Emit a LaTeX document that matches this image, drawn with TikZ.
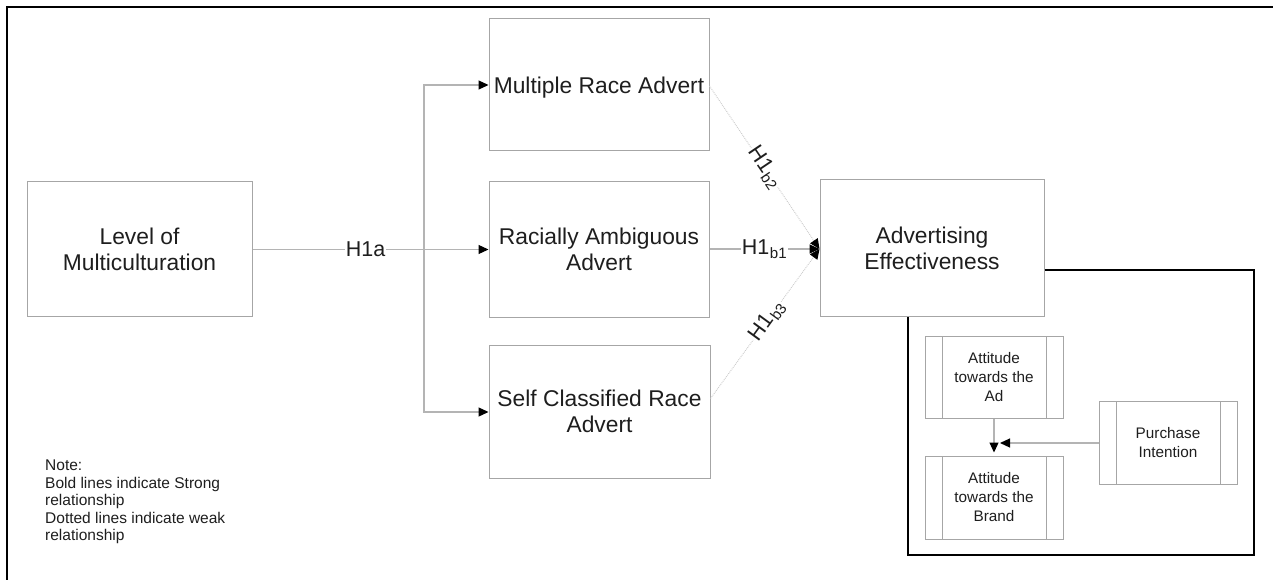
\documentclass[tikz,border=0pt]{standalone}
\usepackage{fontspec}
\setmainfont{Liberation Sans}
\usetikzlibrary{arrows.meta,positioning}
\definecolor{boxline}{HTML}{A6A6A6}
\definecolor{conline}{HTML}{B4B4B4}
\definecolor{ink}{HTML}{1E1E1E}
\begin{document}
\begin{tikzpicture}[x=1pt,y=-1pt,
  every node/.style={text=ink},
  mainbox/.style={draw=boxline,line width=1pt,align=center,inner sep=0pt,
    font=\fontsize{22.8}{26}\selectfont},
  subbox/.style={draw=boxline,line width=1pt,align=center,inner sep=0pt,
    minimum width=138pt,minimum height=83pt,
    font=\fontsize{15.3}{19}\selectfont,
    path picture={
      \draw[boxline,line width=1pt]
        ([xshift=17pt]path picture bounding box.north west) --
        ([xshift=17pt]path picture bounding box.south west)
        ([xshift=-17pt]path picture bounding box.north east) --
        ([xshift=-17pt]path picture bounding box.south east);}},
  strong/.style={conline,line width=1.2pt},
  weak/.style={conline!70,line width=0.9pt,densely dotted},
  tip/.style={-{Triangle[length=10pt,width=9pt,color=black]}},
  hyp/.style={fill=white,inner sep=1pt,font=\fontsize{21.5}{24}\selectfont},
  note/.style={align=left,anchor=north west,inner sep=0pt,
    font=\fontsize{15.5}{17.5}\selectfont}
]
\useasboundingbox (0,0) rectangle (1273,580);

% outer frame
\draw[black,line width=2.5pt] (7,582) -- (7,7) -- (1275,7);

% main boxes
\node[mainbox,minimum width=225pt,minimum height=134pt] (lvl) at (139.5,249)
  {Level of\\Multiculturation};
\node[mainbox,minimum width=220pt,minimum height=132pt,text depth=0pt] (multi)
  at (599,85) {Multiple Race Advert};
\node[mainbox,minimum width=220pt,minimum height=135pt] (racial) at (599,249.5)
  {Racially Ambiguous\\Advert};
\node[mainbox,minimum width=221pt,minimum height=133pt] (self) at (599.5,411.5)
  {Self Classified Race\\Advert};
\node[mainbox,minimum width=224pt,minimum height=136pt] (ae) at (932,248)
  {Advertising\\Effectiveness};

% components of advertising effectiveness
\node[subbox,minimum height=82pt] (ad) at (994,377) {Attitude\\towards the\\Ad};
\node[subbox] (brand) at (994,497.5) {Attitude\\towards the\\Brand};
\node[subbox] (pi) at (1168,442.5) {Purchase\\Intention};

% frame around the components
\draw[black,line width=1.5pt] (ae.east |- 0,270) -- (1254,270) -- (1254,555)
  -- (908,555) -- (908,0 |- ae.south);

% level of multiculturation to the three adverts
\coordinate (split) at (424,249.5);
\draw[strong] (lvl.east |- split) -- node[hyp,pos=0.66] {H1a} (split);
\draw[strong,tip] (split) -- (racial.west |- split);
\draw[strong,tip] (split) |- (multi.west |- 0,85);
\draw[strong,tip] (split) |- (self.west |- 0,412);

% adverts to advertising effectiveness
\coordinate (aein) at (ae.west |- 0,249);
\draw[weak,tip] (multi.east |- 0,86) -- node[hyp,sloped,pos=0.5]
  {H1\kern0.5pt\textsubscript{b2}} (aein);
\draw[weak,tip] ([yshift=13pt]self.east) -- node[hyp,sloped,pos=0.52]
  {H1\kern0.5pt\textsubscript{b3}} (aein);
\draw[strong,tip] (racial.east |- aein) -- node[hyp,pos=0.5]
  {H1\kern0.5pt\textsubscript{b1}} (aein);

% relations among the components
\coordinate (join) at (1000,443);
\draw[strong,tip,shorten >=3pt] (ad.south) -- (brand.north);
\draw[strong,tip] (pi.west |- join) -- (join);

% note
\node[note] (nt) at (45,460) {Note:\\Bold lines indicate Strong\\relationship\\
  Dotted lines indicate weak\\relationship};
\end{tikzpicture}
\end{document}
